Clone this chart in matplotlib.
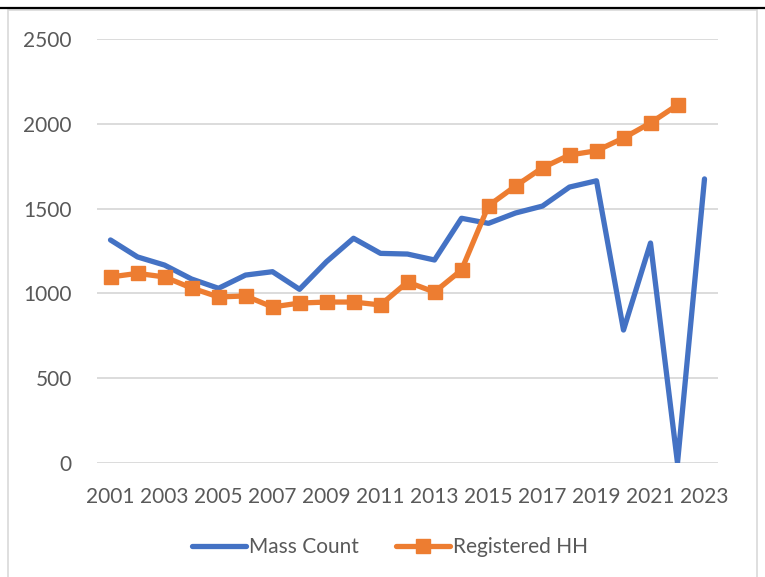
import matplotlib
matplotlib.use("Agg")
import matplotlib.pyplot as plt
import numpy as np
from matplotlib.lines import Line2D
from matplotlib.patches import Rectangle

years = list(range(2001, 2024))
mass_count = [1315, 1215, 1167, 1085, 1030, 1108, 1128, 1024, 1187, 1325, 1236, 1232,
              1197, 1443, 1413, 1474, 1515, 1627, 1664, 784, 1297, 0, 1675]
registered_hh = [1097, 1118, 1097, 1032, 979, 985, 920, 943, 949, 949, 932, 1067,
                 1008, 1138, 1517, 1633, 1741, 1816, 1841, 1916, 2005, 2111, np.nan]
y_ticks = [0, 500, 1000, 1500, 2000, 2500]

plt.rcParams['font.family'] = ['Lato', 'DejaVu Sans']
TXT = '#595959'
BLUE = '#4472C4'
ORANGE = '#ED7D31'
GRID = '#D9D9D9'
FS = 15

W, H = 765, 577
fig = plt.figure(figsize=(W / 100, H / 100), dpi=100)

# outer frame elements
fig.add_artist(Line2D([0, 1], [1 - 8 / H, 1 - 8 / H], color='black', lw=1.6,
                      transform=fig.transFigure))
fig.add_artist(Rectangle((8 / W, -0.05), (757 - 8) / W, 1 - 10 / H + 0.05,
                         transform=fig.transFigure, fill=False,
                         edgecolor=GRID, lw=1.2))

ax = fig.add_axes([97 / W, 1 - 463 / H, 621 / W, 424 / H])
x = np.arange(len(years))

ax.plot(x, mass_count, color=BLUE, lw=3.8, solid_capstyle='round',
        solid_joinstyle='round', label='Mass Count', zorder=3)
ax.plot(x, registered_hh, color=ORANGE, lw=3.8, marker='s', markersize=10,
        solid_capstyle='round', solid_joinstyle='round',
        label='Registered HH', zorder=4)

ax.set_xlim(-0.5, len(years) - 0.5)
ax.set_ylim(0, 2500)
ax.set_yticks(y_ticks)
ax.set_yticklabels([str(v) for v in y_ticks])
ax.set_xticks(x[::2])
ax.set_xticklabels([str(y) for y in years[::2]])
ax.tick_params(axis='both', length=0, labelsize=FS, labelcolor=TXT)
ax.tick_params(axis='y', pad=18)
ax.tick_params(axis='x', pad=17)
ax.yaxis.grid(True, color=GRID, lw=1.3)
ax.set_axisbelow(True)
for s in ax.spines.values():
    s.set_visible(False)

leg = fig.legend(loc='center', bbox_to_anchor=(390 / W, 1 - 547 / H),
                 ncol=2, frameon=False, fontsize=FS, handlelength=2.6,
                 handletextpad=0.12, columnspacing=1.8, numpoints=1)
for t in leg.get_texts():
    t.set_color(TXT)

fig.savefig('out.png', dpi=100)
